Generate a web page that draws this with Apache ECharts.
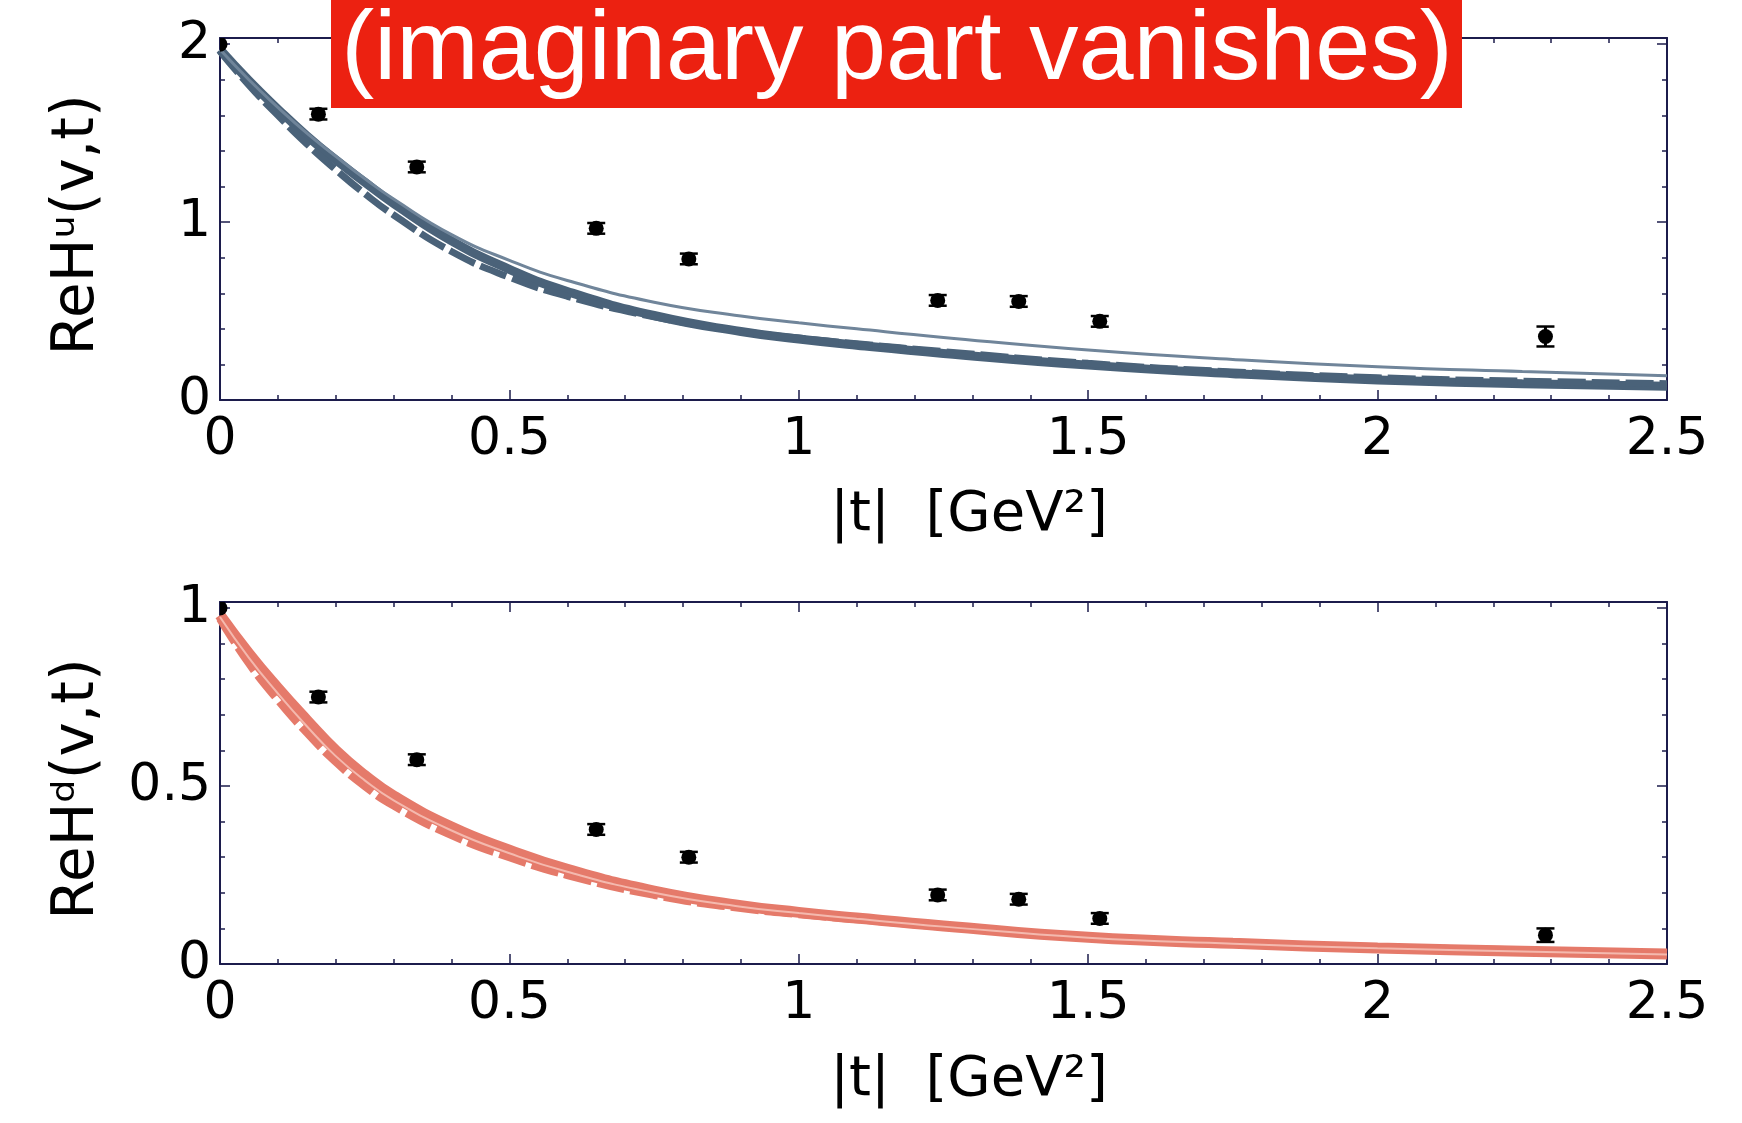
<!DOCTYPE html>
<html>
<head>
<meta charset="utf-8">
<title>ReH(v,t)</title>
<script src="https://cdn.jsdelivr.net/npm/echarts@6/dist/echarts.min.js"></script>
<style>
html,body{margin:0;padding:0;background:#fff;}
#main{width:1742px;height:1123px;}
</style>
</head>
<body>
<div id="main"></div>
<script>
var tGrid = [0, 0.05, 0.1, 0.15, 0.2, 0.25, 0.3, 0.4, 0.5, 0.6, 0.75, 0.9, 1.0, 1.1, 1.25, 1.5, 1.75, 2.0, 2.25, 2.5];

// u quark curves
var uThin   = [1.97, 1.80, 1.645, 1.50, 1.37, 1.245, 1.13, 0.93, 0.785, 0.672, 0.55, 0.472, 0.434, 0.40, 0.352, 0.281, 0.228, 0.187, 0.160, 0.137];
var uBand   = [1.97, 1.795, 1.635, 1.485, 1.35, 1.225, 1.105, 0.895, 0.735, 0.61, 0.475, 0.385, 0.343, 0.308, 0.262, 0.196, 0.148, 0.113, 0.092, 0.077];
var uDashed = [1.96, 1.77, 1.60, 1.44, 1.295, 1.16, 1.04, 0.835, 0.69, 0.583, 0.468, 0.386, 0.348, 0.316, 0.272, 0.206, 0.158, 0.125, 0.106, 0.092];

// d quark curves
var dSolid  = [0.98, 0.872, 0.775, 0.685, 0.60, 0.53, 0.472, 0.385, 0.32, 0.266, 0.205, 0.164, 0.145, 0.129, 0.107, 0.075, 0.058, 0.045, 0.036, 0.028];
var dLight  = [0.975, 0.86, 0.76, 0.668, 0.584, 0.516, 0.46, 0.375, 0.311, 0.259, 0.2, 0.161, 0.143, 0.127, 0.105, 0.074, 0.057, 0.044, 0.035, 0.027];
var dDashed = [0.97, 0.845, 0.742, 0.65, 0.568, 0.50, 0.445, 0.362, 0.30, 0.25, 0.194, 0.157, 0.14, 0.126, 0.105, 0.076, 0.059, 0.047, 0.038, 0.030];

// lattice points
var pointT = [0, 0.17, 0.34, 0.65, 0.81, 1.24, 1.38, 1.52, 2.29];
var uVal   = [2.0, 1.607, 1.31, 0.965, 0.793, 0.56, 0.554, 0.442, 0.357];
var uErr   = [0, 0.03, 0.03, 0.03, 0.03, 0.03, 0.03, 0.03, 0.056];
var dVal   = [1.0, 0.75, 0.574, 0.378, 0.30, 0.194, 0.182, 0.128, 0.081];
var dErr   = [0, 0.015, 0.015, 0.015, 0.015, 0.015, 0.015, 0.015, 0.019];

// axis ticks
var uMajor = [0, 1, 2];
var uMinor = [0.2, 0.4, 0.6, 0.8, 1.2, 1.4, 1.6, 1.8];
var dMajor = [0, 0.5, 1];
var dMinor = [0.1, 0.2, 0.3, 0.4, 0.6, 0.7, 0.8, 0.9];

var frame = '#1c1c4c';
var slate = '#4a6279';
var slateLight = '#70859a';
var salmon = '#e57a6a';
var salmonLight = '#f4b9ae';
var font = 'DejaVu Sans';

function pairs(ys) {
    return tGrid.map(function (t, i) { return [t, ys[i]]; });
}

function xAxes(g) {
    var base = {
        type: 'value', gridIndex: g, min: 0, max: 2.5, interval: 0.5,
        axisLine: {show: true, onZero: false, lineStyle: {color: frame, width: 2}},
        axisTick: {inside: true, length: 10, lineStyle: {color: frame, width: 1.5}},
        minorTick: {show: true, splitNumber: 5, length: 5, lineStyle: {color: frame, width: 1.5}},
        splitLine: {show: false}
    };
    var bottom = Object.assign({}, base, {
        position: 'bottom',
        axisLabel: {margin: 14, fontSize: 52, fontFamily: font, color: '#000'}
    });
    var top = Object.assign({}, base, {position: 'top', axisLabel: {show: false}});
    return [bottom, top];
}

function yAxes(g, max, major, minor) {
    function one(pos, ticks, len, line, labels) {
        return {
            type: 'value', gridIndex: g, min: 0, max: max, position: pos,
            axisLine: {show: line, onZero: false, lineStyle: {color: frame, width: 2}},
            axisTick: {show: true, inside: true, length: len, customValues: ticks, lineStyle: {color: frame, width: 1.5}},
            axisLabel: labels ? {customValues: ticks, margin: 9, fontSize: 52, fontFamily: font, color: '#000'} : {show: false},
            minorTick: {show: false},
            splitLine: {show: false}
        };
    }
    return [
        one('left', major, 10, true, true),
        one('left', minor, 5, false, false),
        one('right', major, 10, true, false),
        one('right', minor, 5, false, false)
    ];
}

function curve(xi, yi, ys, color, width, dash, z) {
    return {
        type: 'line', xAxisIndex: xi, yAxisIndex: yi, data: pairs(ys),
        symbol: 'none', smooth: true, clip: true, silent: true, z: z,
        lineStyle: {color: color, width: width, type: dash ? [28, 6] : 'solid', cap: 'butt'}
    };
}

// lattice points: dot plus error bar with caps, clipped to the plot frame
function points(xi, yi, vals, errs) {
    var data = pointT.map(function (t, i) { return [t, vals[i], errs[i]]; });
    return {
        type: 'custom', xAxisIndex: xi, yAxisIndex: yi, data: data, clip: true, silent: true, z: 6,
        encode: {x: 0, y: 1},
        renderItem: function (params, api) {
            var t = api.value(0), v = api.value(1), e = api.value(2);
            var c = api.coord([t, v]);
            var kids = [];
            if (e > 0) {
                var a = api.coord([t, v + e]), b = api.coord([t, v - e]);
                var hw = 9;
                kids.push(
                    {type: 'line', shape: {x1: a[0], y1: a[1], x2: b[0], y2: b[1]}, style: {stroke: '#000', lineWidth: 3}},
                    {type: 'line', shape: {x1: a[0] - hw, y1: a[1], x2: a[0] + hw, y2: a[1]}, style: {stroke: '#000', lineWidth: 2.5}},
                    {type: 'line', shape: {x1: b[0] - hw, y1: b[1], x2: b[0] + hw, y2: b[1]}, style: {stroke: '#000', lineWidth: 2.5}}
                );
            }
            kids.push({type: 'circle', shape: {cx: c[0], cy: c[1], r: 7.5}, style: {fill: '#000'}});
            return {type: 'group', children: kids};
        }
    };
}

var myChart = echarts.init(document.getElementById('main'), null, {renderer: 'canvas'});
myChart.setOption({
    animation: false,
    backgroundColor: '#fff',
    grid: [
        {left: 220, right: 75, top: 38, height: 362},
        {left: 220, right: 75, top: 602, height: 362}
    ],
    xAxis: xAxes(0).concat(xAxes(1)),
    yAxis: yAxes(0, 2.035, uMajor, uMinor).concat(yAxes(1, 1.017, dMajor, dMinor)),
    series: [
        curve(0, 0, uBand, slate, 9, false, 2),
        curve(0, 0, uDashed, slate, 7, true, 3),
        curve(0, 0, uThin, slateLight, 3, false, 4),
        points(0, 0, uVal, uErr),
        curve(2, 4, dSolid, salmon, 11, false, 2),
        curve(2, 4, dDashed, salmon, 8, true, 3),
        curve(2, 4, dLight, salmonLight, 2, false, 4),
        points(2, 4, dVal, dErr)
    ],
    graphic: [
        {type: 'rect', left: 331, top: 0, shape: {width: 1131, height: 108}, style: {fill: '#ec2111'}, z: 100},
        {type: 'text', x: 897, y: 52, z: 101, style: {text: '(imaginary part vanishes)', font: '99px "Liberation Sans"', fill: '#fff', align: 'center', verticalAlign: 'middle'}},
        {type: 'text', x: 78, y: 225, rotation: Math.PI / 2, z: 50, style: {text: 'ReH\u1d58(v,t)', font: '58px "DejaVu Sans"', fill: '#000', align: 'center', verticalAlign: 'middle'}},
        {type: 'text', x: 78, y: 789, rotation: Math.PI / 2, z: 50, style: {text: 'ReH\u1d48(v,t)', font: '58px "DejaVu Sans"', fill: '#000', align: 'center', verticalAlign: 'middle'}},
        {type: 'text', x: 969, y: 515, z: 50, style: {text: '|t|  [GeV\u00b2]', font: '56px "DejaVu Sans"', fill: '#000', align: 'center', verticalAlign: 'middle'}},
        {type: 'text', x: 969, y: 1080, z: 50, style: {text: '|t|  [GeV\u00b2]', font: '56px "DejaVu Sans"', fill: '#000', align: 'center', verticalAlign: 'middle'}}
    ]
});
</script>
</body>
</html>
